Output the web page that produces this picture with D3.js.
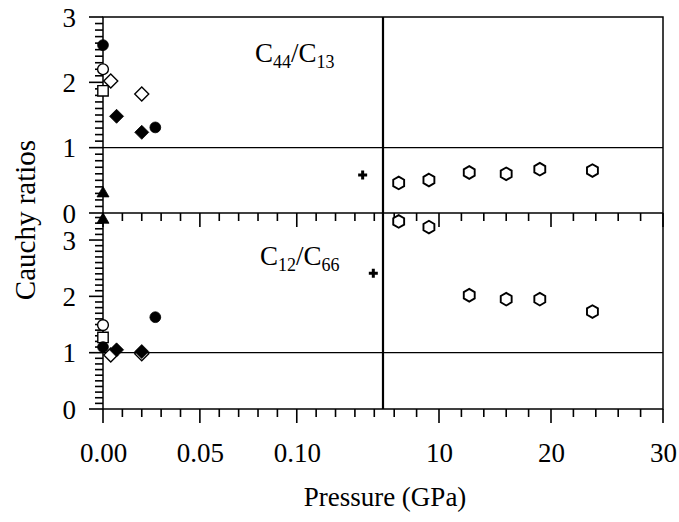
<!DOCTYPE html>
<html>
<head>
<meta charset="utf-8">
<script src="https://cdn.jsdelivr.net/npm/d3@7"></script>
<style>
  body { margin: 0; background: #fff; }
  svg text { font-family: "Liberation Serif", "Times New Roman", serif; fill: #000; }
</style>
</head>
<body>
<div id="chart"></div>
<script>
// pressures (GPa) and Cauchy ratios, one set per symbol
const pressureFilledCircle = [0.000, 0.027];
const c44c13FilledCircle = [2.57, 1.31];
const c12c66FilledCircle = [1.10, 1.63];

const pressureOpenCircle = [0.000];
const c44c13OpenCircle = [2.20];
const c12c66OpenCircle = [1.49];

const pressureOpenDiamond = [0.004, 0.020];
const c44c13OpenDiamond = [2.02, 1.82];
const c12c66OpenDiamond = [0.96, 0.98];

const pressureFilledDiamond = [0.007, 0.020];
const c44c13FilledDiamond = [1.48, 1.235];
const c12c66FilledDiamond = [1.05, 1.02];

const pressureOpenSquare = [0.000];
const c44c13OpenSquare = [1.87];
const c12c66OpenSquare = [1.27];

const pressureTriangle = [0.000];
const c44c13Triangle = [0.30];
const c12c66Triangle = [3.36];

const pressureCrossTop = [0.134];
const pressureCrossBottom = [0.1395];
const c44c13Cross = [0.58];
const c12c66Cross = [2.41];

const pressureHexagon = [6.4, 9.1, 12.7, 16.0, 19.0, 23.7];
const c44c13Hexagon = [0.46, 0.505, 0.62, 0.60, 0.67, 0.65];
const c12c66Hexagon = [3.33, 3.23, 2.02, 1.95, 1.95, 1.73];

// axis ticks
const xLowMajor = [0, 0.05, 0.10];
const xLowMinor = [0.01, 0.02, 0.03, 0.04, 0.06, 0.07, 0.08, 0.09, 0.11, 0.12, 0.13, 0.14];
const xHighMajor = [10, 20, 30];
const xHighMinor = [6, 8, 12, 14, 16, 18, 22, 24, 26, 28];
const yTopMajor = [0, 1, 2, 3];
const yBottomMajor = [0, 1, 2, 3];

const series = [
  { shape: 'triangle', filled: true, pTop: pressureTriangle, pBottom: pressureTriangle, top: c44c13Triangle, bottom: c12c66Triangle },
  { shape: 'square', filled: false, pTop: pressureOpenSquare, pBottom: pressureOpenSquare, top: c44c13OpenSquare, bottom: c12c66OpenSquare },
  { shape: 'circle', filled: false, pTop: pressureOpenCircle, pBottom: pressureOpenCircle, top: c44c13OpenCircle, bottom: c12c66OpenCircle },
  { shape: 'diamond', filled: false, pTop: pressureOpenDiamond, pBottom: pressureOpenDiamond, top: c44c13OpenDiamond, bottom: c12c66OpenDiamond },
  { shape: 'circle', filled: true, pTop: pressureFilledCircle, pBottom: pressureFilledCircle, top: c44c13FilledCircle, bottom: c12c66FilledCircle },
  { shape: 'diamond', filled: true, pTop: pressureFilledDiamond, pBottom: pressureFilledDiamond, top: c44c13FilledDiamond, bottom: c12c66FilledDiamond },
  { shape: 'cross', filled: true, pTop: pressureCrossTop, pBottom: pressureCrossBottom, top: c44c13Cross, bottom: c12c66Cross },
  { shape: 'hexagon', filled: false, pTop: pressureHexagon, pBottom: pressureHexagon, top: c44c13Hexagon, bottom: c12c66Hexagon },
];

const width = 679;
const height = 522;
const plotLeft = 103, plotRight = 663, breakX = 383;
const plotTop = 17, plotMid = 213, plotBottom = 409;

const svg = d3.select('#chart')
  .append('svg')
  .attr('width', width)
  .attr('height', height);

// broken x axis: low pressures on the left, GPa range on the right
const xLow = d3.scaleLinear().domain([0, 0.1445]).range([plotLeft, breakX]);
const xHigh = d3.scaleLinear().domain([5, 30]).range([breakX, plotRight]);
const xPos = (p) => (p < 1 ? xLow(p) : xHigh(p));

const yTop = d3.scaleLinear().domain([0, 3]).range([plotMid, plotTop]);
const yBottom = d3.scaleLinear().domain([0, 3.48]).range([plotBottom, plotMid]);

const fontSize = 27;
const tickW = 1.6;

function styleAxis(g) {
  g.select('.domain').remove();
  g.selectAll('text')
    .attr('font-family', '"Liberation Serif", "Times New Roman", serif')
    .attr('font-size', fontSize);
}

// frame, panel divider, break line
svg.append('rect')
  .attr('x', plotLeft).attr('y', plotTop)
  .attr('width', plotRight - plotLeft).attr('height', plotBottom - plotTop)
  .attr('fill', 'none').attr('stroke', '#000').attr('stroke-width', 1.5);
svg.append('line')
  .attr('x1', plotLeft).attr('x2', plotRight).attr('y1', plotMid).attr('y2', plotMid)
  .attr('stroke', '#000').attr('stroke-width', 1.5);
svg.append('line')
  .attr('x1', breakX).attr('x2', breakX).attr('y1', plotTop).attr('y2', plotBottom)
  .attr('stroke', '#000').attr('stroke-width', 2.2);

// ratio = 1 reference lines
[yTop(1), yBottom(1)].forEach((yy) => {
  svg.append('line')
    .attr('x1', plotLeft).attr('x2', plotRight).attr('y1', yy).attr('y2', yy)
    .attr('stroke', '#000').attr('stroke-width', 1.2);
});

// tick marks as thin filled rects, positions from the scales
function xTicks(scale, values, yy, size) {
  svg.append('g')
    .selectAll('rect')
    .data(values)
    .enter()
    .append('rect')
    .attr('x', (d) => scale(d) - tickW / 2)
    .attr('y', yy)
    .attr('width', tickW)
    .attr('height', size)
    .attr('fill', '#000');
}
function yTicks(scale, values, size) {
  svg.append('g')
    .selectAll('rect')
    .data(values)
    .enter()
    .append('rect')
    .attr('x', plotLeft - size)
    .attr('y', (d) => scale(d) - tickW / 2)
    .attr('width', size)
    .attr('height', tickW)
    .attr('fill', '#000');
}

[plotMid, plotBottom].forEach((yy) => {
  xTicks(xLow, xLowMinor, yy, 8);
  xTicks(xLow, xLowMajor, yy, 14);
  xTicks(xHigh, xHighMinor, yy, 8);
  xTicks(xHigh, xHighMajor, yy, 14);
});

// x tick labels
svg.append('g').attr('transform', `translate(0,${plotBottom})`)
  .call(d3.axisBottom(xLow).tickValues(xLowMajor).tickSize(0).tickPadding(34)
    .tickFormat(d3.format('.2f')))
  .call(styleAxis);
svg.append('g').attr('transform', `translate(0,${plotBottom})`)
  .call(d3.axisBottom(xHigh).tickValues(xHighMajor).tickSize(0).tickPadding(34)
    .tickFormat(d3.format('d')))
  .call(styleAxis);

// y ticks and labels
function yAxes(scale, majors, maxVal) {
  const minors = d3.range(0, Math.round(maxVal * 10) + 1).map((i) => i / 10)
    .filter((v) => v <= maxVal && !majors.includes(v));
  yTicks(scale, minors, 8);
  yTicks(scale, majors, 14);
  svg.append('g').attr('transform', `translate(${plotLeft},0)`)
    .call(d3.axisLeft(scale).tickValues(majors).tickSize(0).tickPadding(27).tickFormat(d3.format('d')))
    .call(styleAxis)
    .selectAll('text').attr('dy', '0.34em');
}
yAxes(yTop, yTopMajor, 3);
yAxes(yBottom, yBottomMajor, 3.4);

// marker shapes
function shapePath(shape) {
  switch (shape) {
    case 'circle': return d3.symbol(d3.symbolCircle, Math.PI * 5.4 * 5.4)();
    case 'square': return 'M-5.2,-5.2H5.2V5.2H-5.2Z';
    case 'diamond': return 'M0,-7L7,0L0,7L-7,0Z';
    case 'triangle': return 'M0,-6.9L6,3.5L-6,3.5Z';
    case 'cross': return 'M-4.5,0H4.5M0,-4.5V4.5';
    case 'hexagon': {
      const r = 6.3;
      const pts = d3.range(6).map((i) => {
        const a = Math.PI / 3 * i - Math.PI / 2;
        return [r * Math.cos(a), r * Math.sin(a)];
      });
      return `M${pts.map((p) => p.join(',')).join('L')}Z`;
    }
    default: return '';
  }
}

function drawMarkers(s, pressures, values, yScale) {
  const pts = values.map((v, i) => ({ p: pressures[i], v }));
  svg.append('g')
    .selectAll('path')
    .data(pts)
    .enter()
    .append('path')
    .attr('transform', (d) => `translate(${xPos(d.p)},${yScale(d.v)})`)
    .attr('d', shapePath(s.shape))
    .attr('fill', s.shape === 'cross' ? 'none' : (s.filled ? '#000' : '#fff'))
    .attr('stroke', '#000')
    .attr('stroke-width', s.shape === 'cross' ? 3 : (s.shape === 'hexagon' ? 1.9 : (s.filled ? 0.8 : 1.4)));
}

series.forEach((s) => {
  drawMarkers(s, s.pTop, s.top, yTop);
  drawMarkers(s, s.pBottom, s.bottom, yBottom);
});

// panel labels
function ratioLabel(x, y, a, b) {
  const t = svg.append('text').attr('x', x).attr('y', y).attr('font-size', fontSize);
  t.append('tspan').text('C');
  t.append('tspan').attr('font-size', 18).attr('dy', 6).text(a);
  t.append('tspan').attr('dy', -6).text('/C');
  t.append('tspan').attr('font-size', 18).attr('dy', 6).text(b);
}
ratioLabel(255, 62, '44', '13');
ratioLabel(260, 265, '12', '66');

// axis titles
svg.append('text')
  .attr('x', (plotLeft + plotRight) / 2 + 2)
  .attr('y', 506)
  .attr('text-anchor', 'middle')
  .attr('font-size', fontSize)
  .text('Pressure (GPa)');

svg.append('text')
  .attr('transform', 'translate(35,220) rotate(-90)')
  .attr('text-anchor', 'middle')
  .attr('font-size', 29)
  .text('Cauchy ratios');
</script>
</body>
</html>
